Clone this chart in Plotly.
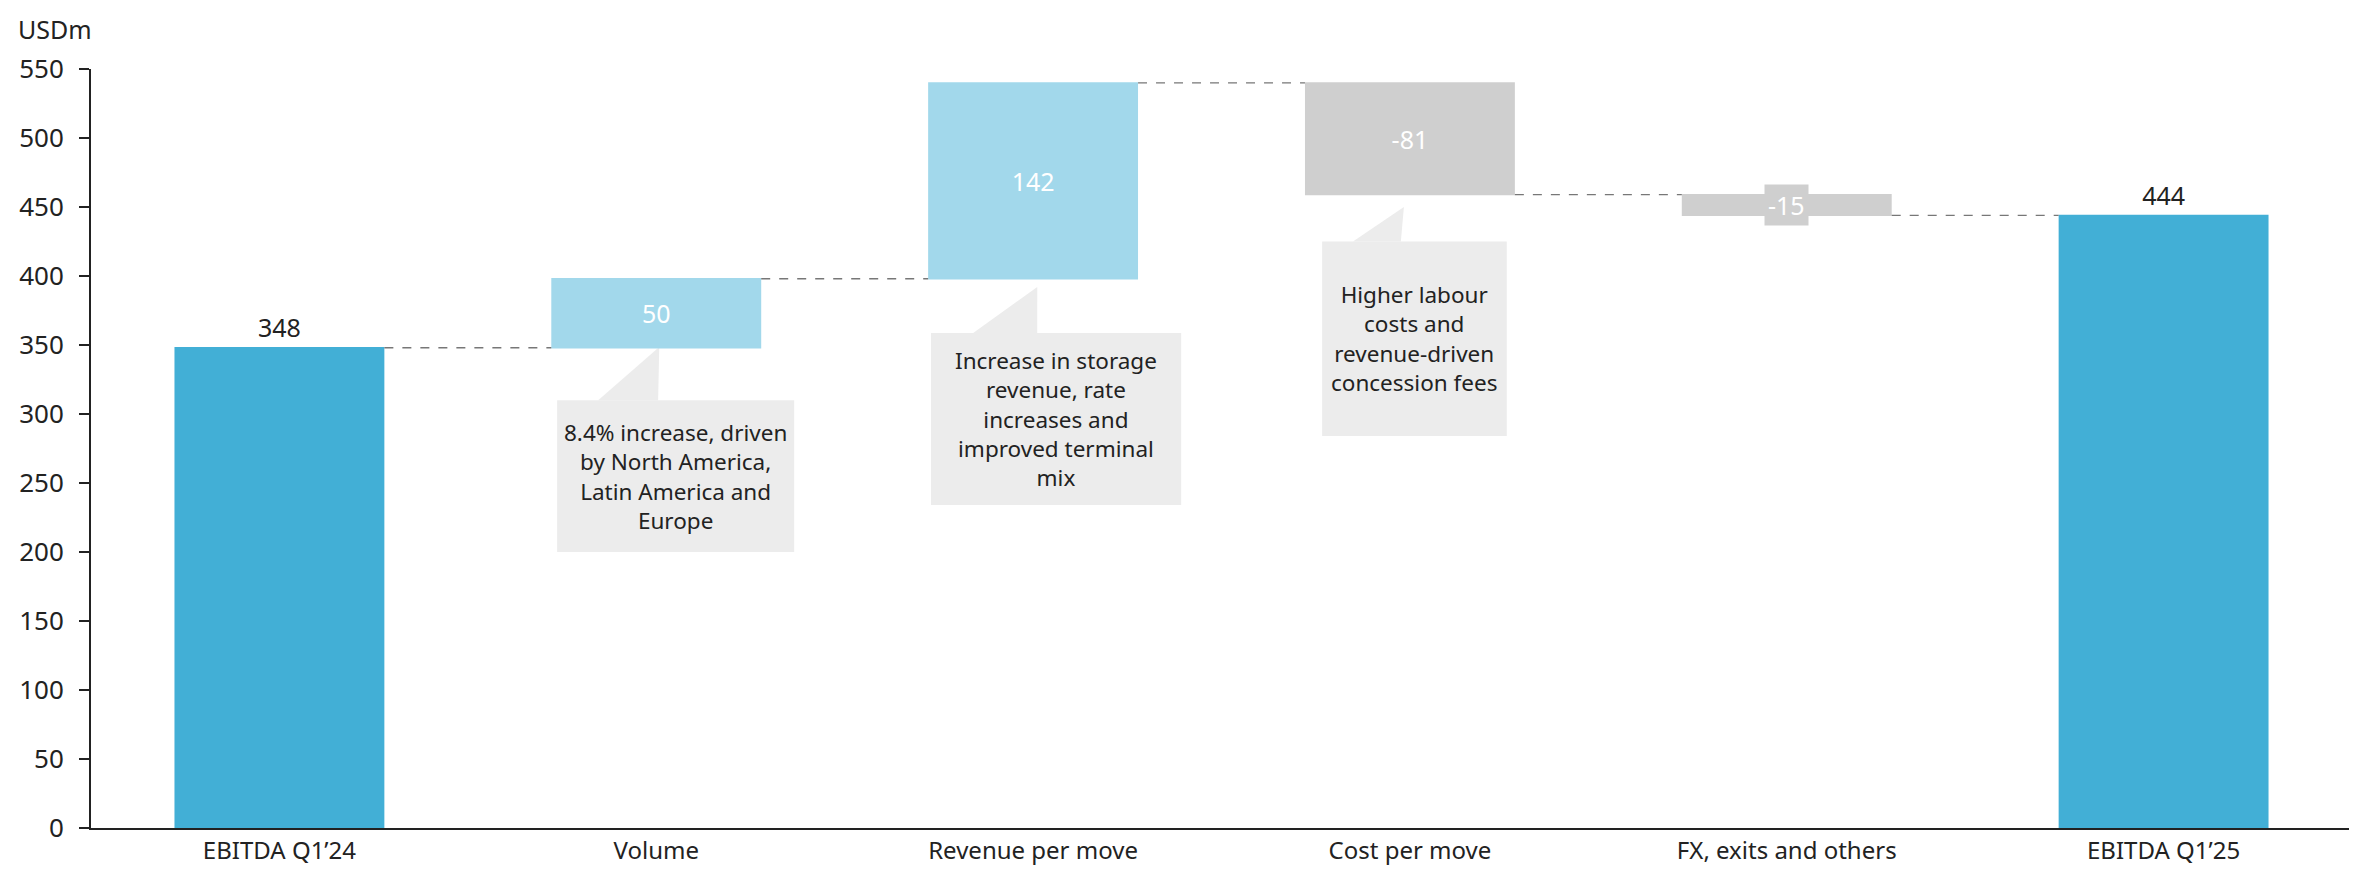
import plotly.graph_objects as go

# ---- data ----
categories = ["EBITDA Q1\u201924", "Volume", "Revenue per move", "Cost per move",
              "FX, exits and others", "EBITDA Q1\u201925"]
measures = ["absolute", "relative", "relative", "relative", "relative", "total"]
values = [348, 50, 142, -81, -15, 0]
value_labels = ["348", "50", "142", "-81", "-15", "444"]
y_ticks = [0, 50, 100, 150, 200, 250, 300, 350, 400, 450, 500, 550]
callout_texts = [
    "8.4% increase, driven<br>by North America,<br>Latin America and<br>Europe",
    "Increase in storage<br>revenue, rate<br>increases and<br>improved terminal<br>mix",
    "Higher labour<br>costs and<br>revenue-driven<br>concession fees",
]

FONT = "Noto Sans"
DARK = "#222222"
TOTAL_C = "#42afd6"
INC_C = "#a2d8eb"
DEC_C = "#cfcfcf"
BOX_C = "#ececec"

xpos = list(range(len(categories)))
text_pos = ["outside", "inside", "inside", "inside", "none", "outside"]

fig = go.Figure(go.Waterfall(
    x=xpos,
    measure=measures,
    y=values,
    text=value_labels,
    textinfo="text",
    textposition=text_pos,
    insidetextanchor="middle",
    textfont=dict(family=FONT, size=25),
    insidetextfont=dict(family=FONT, size=25, color="white"),
    outsidetextfont=dict(family=FONT, size=25, color=DARK),
    cliponaxis=False,
    width=0.557,
    increasing=dict(marker=dict(color=INC_C)),
    decreasing=dict(marker=dict(color=DEC_C)),
    totals=dict(marker=dict(color=TOTAL_C)),
    connector=dict(line=dict(color="#777777", width=1.3, dash="dash")),
    hoverinfo="skip",
))

shapes = []
annotations = []

# callouts: (box x0, x1, y0, y1, pointer base xa, xb, apex x, apex y, text)
callouts = [
    (0.737, 1.366, 200, 310, 0.846, 1.005, 1.008, 348.5, callout_texts[0]),
    (1.729, 2.393, 234, 358.7, 1.841, 2.011, 2.011, 392, callout_texts[1]),
    (2.767, 3.257, 284, 425, 2.849, 2.976, 2.984, 450, callout_texts[2]),
]
for (x0, x1, y0, y1, xa, xb, ax, ay, txt) in callouts:
    shapes.append(dict(type="rect", xref="x", yref="y", x0=x0, x1=x1, y0=y0, y1=y1,
                       fillcolor=BOX_C, line=dict(width=0), layer="below"))
    shapes.append(dict(type="path", xref="x", yref="y",
                       path=f"M {xa},{y1} L {xb},{y1} L {ax},{ay} Z",
                       fillcolor=BOX_C, line=dict(width=0), layer="below"))
    annotations.append(dict(x=(x0 + x1) / 2, y=(y0 + y1) / 2, xref="x", yref="y",
                            text=txt, showarrow=False, align="center",
                            font=dict(family=FONT, size=22.5, color=DARK)))

# label for the thin FX bar
fx_end = sum(values[:5])
annotations.append(dict(x=4, y=fx_end - values[4] / 2, xref="x", yref="y",
                        text=value_labels[4], showarrow=False,
                        bgcolor=DEC_C, borderpad=3,
                        font=dict(family=FONT, size=25, color="white")))

# unit label
annotations.append(dict(xref="paper", yref="paper", x=-0.0327, y=1.0,
                        xanchor="left", yanchor="bottom", yshift=22, borderpad=0,
                        text="USDm", showarrow=False,
                        font=dict(family=FONT, size=25, color=DARK)))

fig.update_layout(
    template="none",
    width=2357, height=870,
    margin=dict(l=83, r=13, t=61, b=50, autoexpand=False),
    paper_bgcolor="white", plot_bgcolor="white",
    showlegend=False,
    font=dict(family=FONT, size=25, color=DARK),
    shapes=shapes,
    annotations=annotations,
    xaxis=dict(
        range=[-0.5, 5.5], automargin=False,
        tickmode="array", tickvals=xpos, ticktext=categories,
        showgrid=False, zeroline=False,
        showline=True, linecolor=DARK, linewidth=2,
        ticks="", tickfont=dict(family=FONT, size=24, color=DARK),
    ),
    yaxis=dict(
        range=[0, 550], automargin=False,
        tickmode="array", tickvals=y_ticks,
        showgrid=False, zeroline=False,
        showline=True, linecolor=DARK, linewidth=2,
        ticks="outside", ticklen=10, tickwidth=2, tickcolor=DARK,
        ticklabelstandoff=10,
        tickfont=dict(family=FONT, size=26, color=DARK),
    ),
)

fig.write_html("out.html")
